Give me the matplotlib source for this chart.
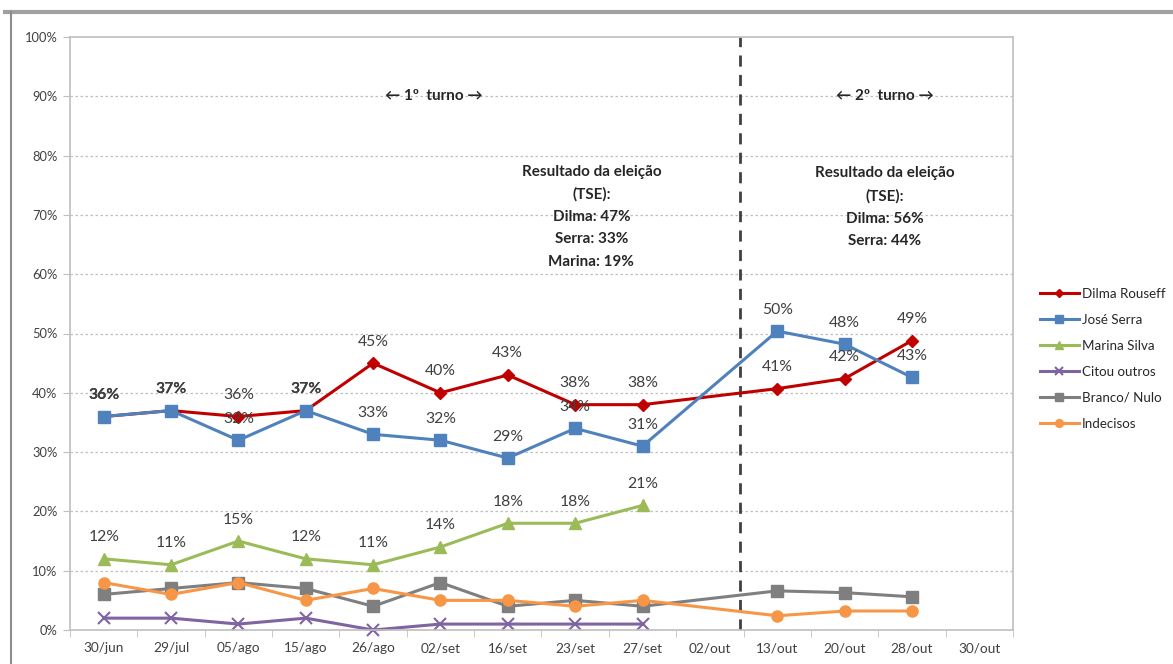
import matplotlib
matplotlib.use("Agg")
import matplotlib.pyplot as plt
import numpy as np
from matplotlib.lines import Line2D

plt.rcParams['font.family'] = ['Lato', 'DejaVu Sans']

categories = ["30/jun", "29/jul", "05/ago", "15/ago", "26/ago", "02/set", "16/set",
              "23/set", "27/set", "02/out", "13/out", "20/out", "28/out", "30/out"]
nan = np.nan
dilma = [36, 37, 36, 37, 45, 40, 43, 38, 38, nan, 40.7, 42.4, 48.8, nan]
serra = [36, 37, 32, 37, 33, 32, 29, 34, 31, nan, 50.4, 48.2, 42.6, nan]
marina = [12, 11, 15, 12, 11, 14, 18, 18, 21, nan, nan, nan, nan, nan]
outros = [2, 2, 1, 2, 0, 1, 1, 1, 1, nan, nan, nan, nan, nan]
branco = [6, 7, 8, 7, 4, 8, 4, 5, 4, nan, 6.6, 6.3, 5.6, nan]
indecisos = [8, 6, 8, 5, 7, 5, 5, 4, 5, nan, 2.4, 3.2, 3.2, nan]
series_names = ["Dilma Rouseff", "José Serra", "Marina Silva", "Citou outros",
                "Branco/ Nulo", "Indecisos"]
y_ticks = [0, 10, 20, 30, 40, 50, 60, 70, 80, 90, 100]
divider_pos = 9.44

series = [
    (dilma, series_names[0], '#C00000', 'D', 6.5, True),
    (serra, series_names[1], '#4F81BD', 's', 8, True),
    (marina, series_names[2], '#9BBB59', '^', 8, True),
    (outros, series_names[3], '#8064A2', 'x', 8, False),
    (branco, series_names[4], '#7F7F7F', 's', 8, False),
    (indecisos, series_names[5], '#F79646', 'o', 8, False),
]

fig = plt.figure(figsize=(11.73, 6.64), dpi=100)
ax = fig.add_axes([70/1173, 1-630/664, 943/1173, 593/664])

x = np.arange(len(categories))
handles = []
for vals, name, color, mk, ms, lab in series:
    v = np.array(vals, dtype=float)
    m = ~np.isnan(v)
    ln, = ax.plot(x[m], v[m], color=color, lw=2.2, marker=mk, markersize=ms,
                  markeredgewidth=1.5 if mk == 'x' else 1, markeredgecolor=color,
                  label=name, clip_on=False)
    handles.append(ln)
    if lab:
        for xi, yi in zip(x[m], v[m]):
            bold = False
            if name in ("Dilma Rouseff", "José Serra"):
                other = serra if name == "Dilma Rouseff" else dilma
                if other[xi] == yi:
                    bold = True
            ax.annotate(f"{round(yi)}%", (xi, yi), xytext=(0, 15.5),
                        textcoords='offset points', ha='center', va='center',
                        fontsize=11.3, color='#404040',
                        fontweight='bold' if bold else 'normal')

ax.set_xlim(-0.5, len(categories) - 0.5)
ax.set_ylim(0, 100)
ax.set_yticks(y_ticks)
ax.set_yticklabels([f"{t}%" for t in y_ticks])
ax.set_xticks(x)
ax.set_xticklabels(categories)
ax.set_xticks(np.arange(-0.5, len(categories)), minor=True)
ax.tick_params(axis='x', which='major', length=0, pad=9, labelsize=9.8, labelcolor='#404040')
ax.tick_params(axis='x', which='minor', length=5, color='#BFBFBF', direction='out')
ax.tick_params(axis='y', length=5, color='#BFBFBF', labelsize=9.3, labelcolor='#404040', pad=4)

for t in y_ticks[1:-1]:
    ax.axhline(t, color='#BFBFBF', lw=0.9, ls=(0, (2, 2)), zorder=0)
for s in ['left', 'bottom', 'top', 'right']:
    ax.spines[s].set_color('#BFBFBF')
    ax.spines[s].set_linewidth(1.2)

ax.axvline(divider_pos, color='#404040', lw=2, ls=(0, (4, 3)), zorder=1)

bold_font = dict(fontsize=11, fontweight='bold', color='#262626', ha='center', va='center')
ax.text(4.9, 90, "← 1º  turno →", **bold_font)
ax.text(11.6, 90, "← 2º  turno →", **bold_font)
ax.text(7.24, 69.7, "Resultado da eleição\n(TSE):\nDilma: 47%\nSerra: 33%\nMarina: 19%",
        linespacing=1.75, **bold_font)
ax.text(11.6, 71.3, "Resultado da eleição\n(TSE):\nDilma: 56%\nSerra: 44%",
        linespacing=1.75, **bold_font)

leg = fig.legend(handles=handles, loc='center left', bbox_to_anchor=(1028/1173, 1-359/664),
                 frameon=False, fontsize=9.6, handlelength=2.9, labelspacing=1.05,
                 handletextpad=0.25, markerscale=0.7)
for t in leg.get_texts():
    t.set_color('#262626')

# outer frame remnants
fig.add_artist(Line2D([5/1173, 1], [1-12/664, 1-12/664], color='#A0A0A0', lw=3,
                      transform=fig.transFigure))
fig.add_artist(Line2D([11/1173, 11/1173], [0, 1-12/664], color='#8C8C8C', lw=1.5,
                      transform=fig.transFigure))

fig.savefig("out.png", dpi=100)
